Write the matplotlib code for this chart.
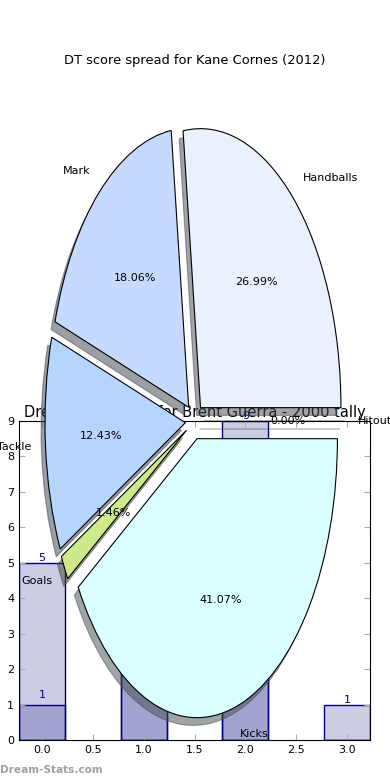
import numpy as np
import matplotlib
matplotlib.use("Agg")
import matplotlib.pyplot as plt

# bar data (Brent Guerra 2000)
bar_x = [0, 1, 2, 3]
tally_a = [5, 3, 9, 1]
tally_b = [1, 2, 2, 0]

# pie data (Kane Cornes 2012)
pie_labels = ['Handballs', 'Mark', 'Tackle', 'Goals', 'Kicks', 'Hitout']
pie_share = [26.99, 18.06, 12.43, 1.46, 41.07, 0.00]
pie_colors = ['#e9f1ff', '#c6d9ff', '#b5d5ff', '#cde98c', '#d9ffff', '#ffe0e0']

fig = plt.figure(figsize=(3.9, 7.8), dpi=100)

# bar axes (underneath)
ax = fig.add_axes([19/390, 40/780, 351/390, 319/780])
face = (0, 0, 0.5, 0.2)
ax.bar(bar_x, tally_a, width=0.45, color=face, edgecolor='navy', linewidth=1)
ax.bar(bar_x, tally_b, width=0.45, color=face, edgecolor='navy', linewidth=1)
for xv, v in zip(bar_x, tally_a):
    if v > 0:
        ax.text(xv, v, str(v), ha='center', va='bottom', color='navy', fontsize=8, clip_on=False)
for xv, v in zip(bar_x, tally_b):
    if v > 0:
        ax.text(xv, v + 0.12, str(v), ha='center', va='bottom', color='navy', fontsize=8, clip_on=False)
ax.set_xlim(-0.225, 3.225)
ax.set_ylim(0, 9)
ax.set_xticks(np.arange(0, 3.01, 0.5))
ax.set_yticks(range(0, 10))
ax.tick_params(direction='in', top=True, right=True, labelsize=8, length=4, color='#aaaaaa')
ax.set_title('Dream Team tally for Brent Guerra - 2000 tally', fontsize=10.5, pad=3)

# pie axes (on top)
pax = fig.add_axes([19/390, 10/780, 351/390, 697.5/780])
pax.patch.set_visible(False)
pax.pie(pie_share, labels=pie_labels, colors=pie_colors, explode=[0.065]*6,
        autopct='%1.2f%%', shadow=True, startangle=0,
        wedgeprops={'edgecolor': 'black', 'linewidth': 0.8},
        textprops={'fontsize': 8})
pax.set_aspect('auto')
pax.set_xlim(-1.25, 1.25)
pax.set_ylim(-1.25, 1.25)
pax.set_title('DT score spread for Kane Cornes (2012)', fontsize=9.4)

fig.text(0.0, 10/780, 'Dream-Stats.com', color='#a0a0a0', fontsize=7.6, fontweight='bold', va='center')

fig.savefig('out.png', dpi=100)
